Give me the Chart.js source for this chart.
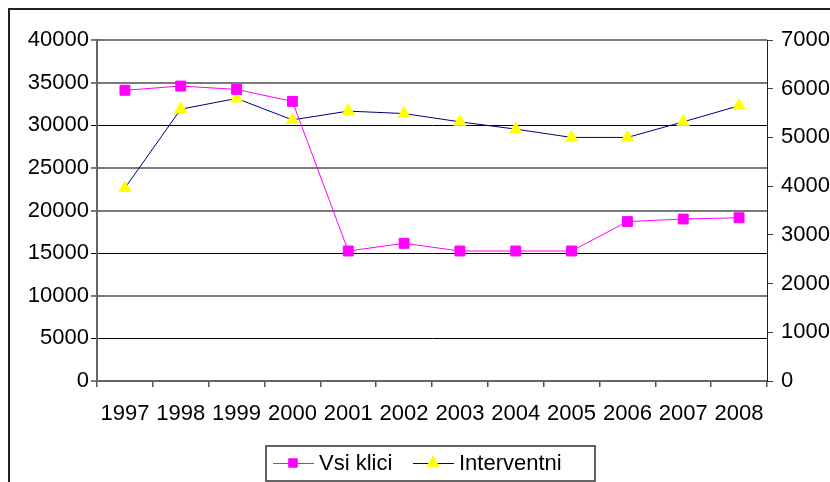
<!DOCTYPE html>
<html>
<head>
<meta charset="utf-8">
<script src="https://cdn.jsdelivr.net/npm/chart.js@4"></script>
<style>
  html, body { margin: 0; padding: 0; background: #fff; overflow: hidden; }
  canvas { display: block; }
</style>
</head>
<body>
<canvas id="chart" width="830" height="482"></canvas>
<script>
// podatki
const years = ['1997', '1998', '1999', '2000', '2001', '2002', '2003', '2004', '2005', '2006', '2007', '2008'];
const vsiKlici = [34100, 34600, 34200, 32800, 15250, 16150, 15250, 15250, 15250, 18700, 19000, 19150];
const interventni = [3960, 5580, 5800, 5360, 5540, 5490, 5320, 5170, 5000, 5000, 5320, 5650];
const leftTicks = [0, 5000, 10000, 15000, 20000, 25000, 30000, 35000, 40000];
const rightTicks = [0, 1000, 2000, 3000, 4000, 5000, 6000, 7000];

const FONT = { family: "'Liberation Sans', Arial, sans-serif", size: 22 };

// okvir okoli grafa in legenda z obrobo
const framePlugin = {
    id: 'frame',
    beforeDraw(chart) {
        const ctx = chart.ctx;
        ctx.save();
        ctx.fillStyle = '#fff';
        ctx.fillRect(0, 0, chart.width, chart.height);
        ctx.strokeStyle = '#222';
        ctx.lineWidth = 2;
        ctx.strokeRect(9, 9, chart.width + 20, chart.height + 20);
        ctx.restore();
    },
    afterDraw(chart) {
        const ctx = chart.ctx;
        ctx.save();
        ctx.strokeStyle = '#333';
        ctx.lineWidth = 1.5;
        ctx.strokeRect(266, 446, 329, 35);

        const items = [
            { ds: chart.data.datasets[0], x: 273 },
            { ds: chart.data.datasets[1], x: 413 }
        ];
        const cy = 463;
        items.forEach(item => {
            const ds = item.ds;
            ctx.strokeStyle = ds.borderColor;
            ctx.lineWidth = 1;
            ctx.beginPath();
            ctx.moveTo(item.x, cy + 0.5);
            ctx.lineTo(item.x + 41, cy + 0.5);
            ctx.stroke();
            ctx.fillStyle = ds.pointBackgroundColor;
            ctx.strokeStyle = ds.pointBorderColor;
            ctx.lineWidth = 1;
            Chart.helpers.drawPoint(ctx, {
                pointStyle: ds.pointStyle,
                rotation: 0,
                borderWidth: 1,
                radius: ds.pointStyle === 'rect' ? 6 : 7
            }, item.x + 20, cy);
            ctx.fillStyle = '#000';
            ctx.font = `${FONT.size}px ${FONT.family}`;
            ctx.textBaseline = 'middle';
            ctx.textAlign = 'left';
            ctx.fillText(ds.label, item.x + 46, cy + 1);
        });
        ctx.restore();
    }
};

const plainNumber = v => String(v);

const ctx = document.getElementById('chart').getContext('2d');
new Chart(ctx, {
    type: 'line',
    data: {
        labels: years,
        datasets: [{
            label: 'Vsi klici',
            data: vsiKlici,
            yAxisID: 'y',
            borderColor: '#ff00ff',
            borderWidth: 1,
            pointStyle: 'rect',
            pointRadius: 7,
            pointBackgroundColor: '#ff00ff',
            pointBorderColor: '#ff00ff',
            pointBorderWidth: 1,
            tension: 0,
            fill: false
        }, {
            label: 'Interventni',
            data: interventni,
            yAxisID: 'y1',
            borderColor: '#000080',
            borderWidth: 1,
            pointStyle: 'triangle',
            pointRadius: 7,
            pointBackgroundColor: '#ffff00',
            pointBorderColor: '#ffff00',
            pointBorderWidth: 1,
            tension: 0,
            fill: false
        }]
    },
    options: {
        responsive: false,
        animation: false,
        devicePixelRatio: 1,
        layout: { padding: { top: 40, left: 0, right: 0, bottom: 51 } },
        plugins: {
            legend: { display: false },
            tooltip: { enabled: false }
        },
        scales: {
            x: {
                offset: true,
                grid: {
                    offset: true,
                    drawOnChartArea: false,
                    tickLength: 6,
                    color: '#555',
                    lineWidth: 1.5
                },
                border: { color: '#666', width: 2 },
                ticks: {
                    color: '#000',
                    font: FONT,
                    padding: 14,
                    maxRotation: 0,
                    autoSkip: false
                },
                afterFit: s => { s.height = 50; }
            },
            y: {
                position: 'left',
                min: 0,
                max: 40000,
                afterBuildTicks: s => { s.ticks = leftTicks.map(v => ({ value: v })); },
                grid: {
                    tickLength: 6,
                    color: c => [30000, 15000, 5000].includes(c.tick && c.tick.value) ? '#000' : '#7a7a7a',
                    lineWidth: c => [30000, 15000, 5000].includes(c.tick && c.tick.value) ? 1 : 2
                },
                border: { color: '#666', width: 2 },
                ticks: { color: '#000', font: FONT, padding: 2, callback: plainNumber },
                afterFit: s => { s.width = 97; }
            },
            y1: {
                position: 'right',
                min: 0,
                max: 7000,
                afterBuildTicks: s => { s.ticks = rightTicks.map(v => ({ value: v })); },
                grid: {
                    drawOnChartArea: false,
                    tickLength: 6,
                    color: '#444'
                },
                border: { color: '#222', width: 1 },
                ticks: { color: '#000', font: FONT, padding: 8, callback: plainNumber },
                afterFit: s => { s.width = 63; }
            }
        }
    },
    plugins: [framePlugin]
});
</script>
</body>
</html>
